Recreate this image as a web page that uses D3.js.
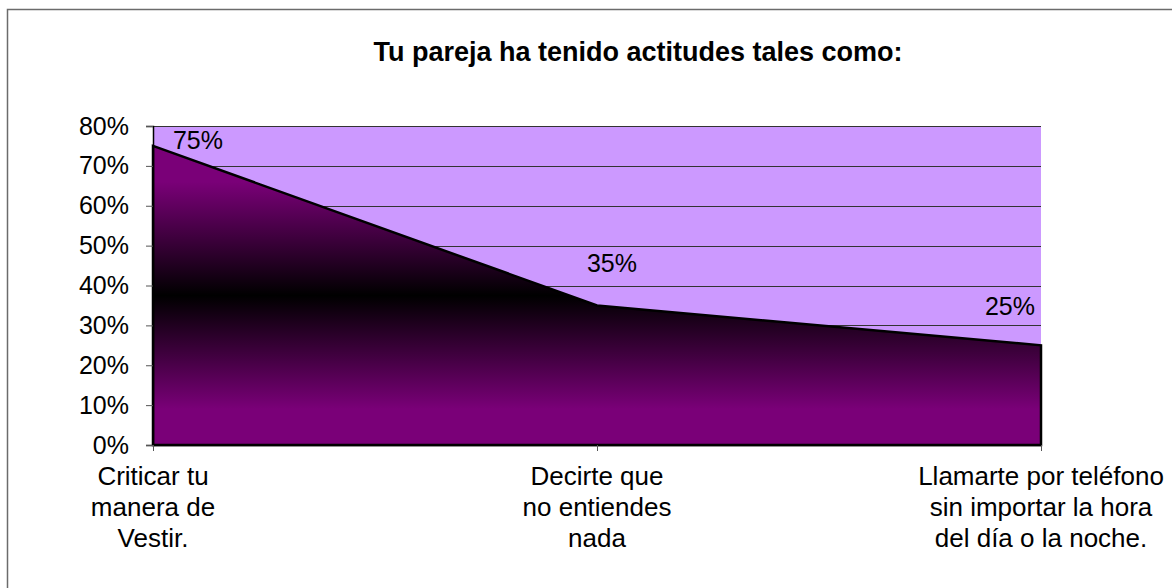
<!DOCTYPE html>
<html><head><meta charset="utf-8">
<script src="https://cdn.jsdelivr.net/npm/d3@7"></script>
<style>
html,body{margin:0;padding:0;background:#fff;}
svg{display:block;font-family:"Liberation Sans",Arial,sans-serif;}
</style></head>
<body>
<svg id="chart" width="1172" height="588"></svg>
<script>
const title = "Tu pareja ha tenido actitudes tales como:";
const categories = [
  ["Criticar tu","manera de","Vestir."],
  ["Decirte que","no entiendes","nada"],
  ["Llamarte por teléfono","sin importar la hora","del día o la noche."]
];
const values = [0.75, 0.35, 0.25];
const yTicks = [0,0.1,0.2,0.3,0.4,0.5,0.6,0.7,0.8];
const labelOffsets = [[45,3],[15,-33],[-31,-30]];

const svg = d3.select("#chart");
const m = {left:153, right:1041, top:126, bottom:445};

svg.append("rect").attr("x",7.5).attr("y",9.5).attr("width",1180).attr("height",600)
  .attr("fill","#fff").attr("stroke","#6b6b6b").attr("stroke-width",1.5);

const x = d3.scalePoint().domain(d3.range(categories.length)).range([m.left,m.right]);
const y = d3.scaleLinear().domain([0,0.8]).range([m.bottom,m.top]);

// plot background
svg.append("rect").attr("x",m.left).attr("y",m.top).attr("width",m.right-m.left).attr("height",m.bottom-m.top)
  .attr("fill","#CC99FF");

// gridlines
svg.append("g").selectAll("line").data(yTicks.slice(1)).join("line")
  .attr("x1",m.left).attr("x2",m.right).attr("y1",d=>Math.round(y(d))+0.5).attr("y2",d=>Math.round(y(d))+0.5)
  .attr("stroke","#333").attr("stroke-width",1);

// gradient
const defs = svg.append("defs");
const grad = defs.append("linearGradient").attr("id","g1").attr("x1",0).attr("y1",0).attr("x2",0).attr("y2",1);
[["0%","#7a0078"],["12%","#7a0078"],["50%","#000000"],["88%","#7a0078"],["100%","#7a0078"]]
  .forEach(([o,c])=>grad.append("stop").attr("offset",o).attr("stop-color",c));

const area = d3.area().x((d,i)=>x(i)).y0(y(0)).y1(d=>y(d));
svg.append("path").datum(values).attr("d",area)
  .attr("fill","url(#g1)").attr("stroke","#000").attr("stroke-width",2.5).attr("stroke-linejoin","miter");

// y axis
const yAxis = d3.axisLeft(y).tickValues(yTicks).tickFormat(d3.format(".0%")).tickSize(7).tickPadding(17);
const gy = svg.append("g").attr("transform",`translate(${m.left},0)`).call(yAxis);
gy.select(".domain").attr("stroke","#000").attr("stroke-width",1.5);
gy.selectAll(".tick line").attr("stroke","#555");
gy.selectAll("text").attr("font-size",25).attr("fill","#000").attr("font-family","Liberation Sans, Arial, sans-serif");

// x axis
const xAxis = d3.axisBottom(x).tickFormat("").tickSize(6).tickSizeOuter(0);
const gx = svg.append("g").attr("transform",`translate(0,${m.bottom})`).call(xAxis);
gx.select(".domain").attr("stroke","#000").attr("stroke-width",1.5);
gx.selectAll(".tick line").attr("stroke","#555");

// category labels
const catG = svg.append("g").attr("font-size",26).attr("text-anchor","middle").attr("fill","#000");
categories.forEach((lines,i)=>{
  const t = catG.append("text").attr("x", x(i)).attr("y",485);
  lines.forEach((l,j)=>t.append("tspan").attr("x", x(i)).attr("dy", j===0?0:31).text(l));
});

// data labels
svg.append("g").selectAll("text").data(values).join("text")
  .attr("x",(d,i)=>x(i)+labelOffsets[i][0]).attr("y",(d,i)=>y(d)+labelOffsets[i][1])
  .attr("text-anchor","middle").attr("font-size",25).attr("fill","#000")
  .text(d=>d3.format(".0%")(d));

// title
svg.append("text").attr("x",638).attr("y",61).attr("text-anchor","middle")
  .attr("font-size",27).attr("font-weight","bold").attr("fill","#000").text(title);
</script>
</body></html>
